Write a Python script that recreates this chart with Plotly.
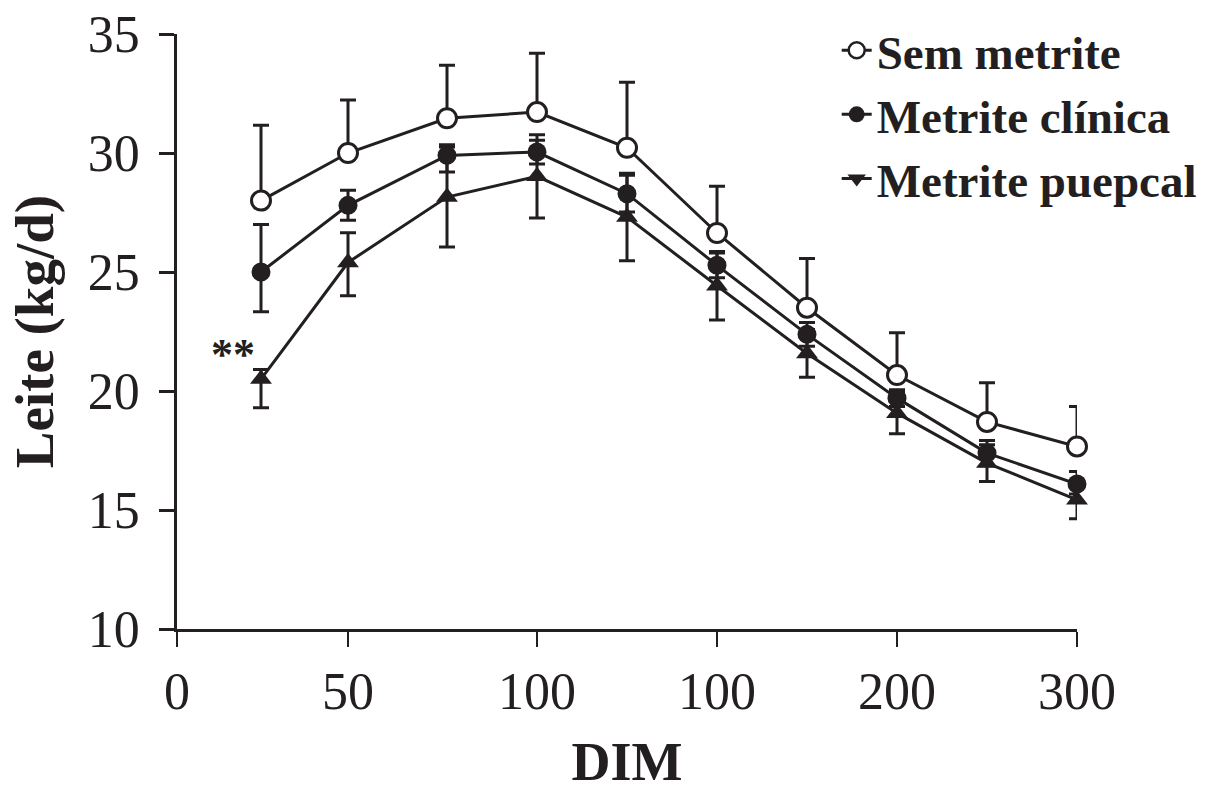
import plotly.graph_objects as go

# ---- data ----
dim = [28, 57, 90, 120, 150, 180, 210, 240, 270, 300]

sem_metrite = [28.0, 30.0, 31.46, 31.72, 30.22, 26.64, 23.5, 20.67, 18.7, 17.67]
sem_err_plus = [3.17, 2.23, 2.23, 2.47, 2.75, 1.96, 2.07, 1.78, 1.65, 1.68]
sem_err_minus = [0, 0, 0, 0, 0, 0, 0, 0, 0, 0]

clinica = [25.0, 27.8, 29.9, 30.04, 28.29, 25.28, 22.38, 19.7, 17.39, 16.09]
clin_err_plus = [2.0, 0.63, 0.45, 0.5, 0.77, 0.52, 0.5, 0.35, 0.53, 0.53]
clin_err_minus = [1.67, 0.63, 0.7, 0.5, 0.77, 0.52, 0.5, 0.35, 0.53, 0.42]

puerperal = [20.5, 25.4, 28.15, 29.02, 27.31, 24.42, 21.58, 19.07, 16.97, 15.43]
puer_err_plus = [0.4, 1.25, 2.1, 1.75, 1.84, 1.44, 1.0, 0.87, 0.77, 0.8]
puer_err_minus = [1.2, 1.4, 2.1, 1.75, 1.84, 1.44, 1.0, 0.87, 0.77, 0.8]

series_names = ["Sem metrite", "Metrite clínica", "Metrite puepcal"]

x_tickvals = [0, 57, 120, 180, 240, 300]
x_ticktext = ["0", "50", "100", "100", "200", "300"]
y_tickvals = [10, 15, 20, 25, 30, 35]

# ---- styling ----
INK = "#231f20"
FONT = "Liberation Serif, Times New Roman, serif"
LW = 3
MS = 19

fig = go.Figure()

def err(plus, minus):
    return dict(type="data", symmetric=False, array=plus, arrayminus=minus,
                color=INK, thickness=3, width=8)

fig.add_trace(go.Scatter(
    x=dim, y=puerperal, mode="lines+markers", showlegend=False,
    line=dict(color=INK, width=LW),
    marker=dict(symbol="triangle-up", size=MS, color=INK),
    error_y=err(puer_err_plus, puer_err_minus), cliponaxis=False))
fig.add_trace(go.Scatter(
    x=dim, y=clinica, mode="lines+markers", showlegend=False,
    line=dict(color=INK, width=LW),
    marker=dict(symbol="circle", size=MS, color=INK),
    error_y=err(clin_err_plus, clin_err_minus), cliponaxis=False))
fig.add_trace(go.Scatter(
    x=dim, y=sem_metrite, mode="lines+markers", showlegend=False,
    line=dict(color=INK, width=LW),
    marker=dict(symbol="circle", size=MS, color="white", line=dict(color=INK, width=3)),
    error_y=err(sem_err_plus, sem_err_minus), cliponaxis=False))

# legend-only entries (legend in the reference shows a downward triangle)
legend_markers = [
    dict(symbol="circle", size=16, color="white", line=dict(color=INK, width=2.5)),
    dict(symbol="circle", size=16, color=INK),
    dict(symbol="triangle-down", size=16, color=INK),
]
for name, mk in zip(series_names, legend_markers):
    fig.add_trace(go.Scatter(
        x=[None], y=[None], mode="lines+markers", name=name,
        line=dict(color=INK, width=LW), marker=mk, showlegend=True))

fig.add_annotation(x=18.5, y=21.55, xref="x", yref="y", text="<b>**</b>",
                   showarrow=False, font=dict(family=FONT, size=44, color=INK))

# y-axis title as a rotated annotation (placed further left than a standoff allows)
fig.add_annotation(x=-0.158, y=0.50, xref="paper", yref="paper",
                   xanchor="center", yanchor="middle", textangle=-90,
                   text="<b>Leite (kg/d)</b>", showarrow=False,
                   font=dict(family=FONT, size=55, color=INK))

fig.update_layout(
    width=1205, height=792,
    paper_bgcolor="white", plot_bgcolor="white",
    margin=dict(l=177, r=128, t=34, b=163, autoexpand=False),
    font=dict(family=FONT, color=INK),
    showlegend=True,
    legend=dict(x=0.733, y=1.035, xanchor="left", yanchor="top",
                font=dict(family=FONT, size=47, color=INK, weight="bold"),
                bgcolor="rgba(0,0,0,0)", tracegroupgap=0, itemsizing="trace"),
    xaxis=dict(range=[0, 300], tickvals=x_tickvals, ticktext=x_ticktext,
               automargin=False,
               showgrid=False, zeroline=False, showline=True, linecolor=INK, linewidth=3,
               ticks="outside", ticklen=15, tickwidth=2, tickcolor=INK,
               tickfont=dict(family=FONT, size=52, color=INK),
               title=dict(text="<b>DIM</b>", font=dict(family=FONT, size=54, color=INK),
                          standoff=28)),
    yaxis=dict(range=[10, 35], tickvals=y_tickvals,
               automargin=False, ticklabelstandoff=9,
               showgrid=False, zeroline=False, showline=True, linecolor=INK, linewidth=2.5,
               ticks="outside", ticklen=15, tickwidth=2.5, tickcolor=INK,
               tickfont=dict(family=FONT, size=52, color=INK)),
)

fig.write_html("out.html",
               config={"displayModeBar": False},
               post_script="document.body.style.margin='0';")
